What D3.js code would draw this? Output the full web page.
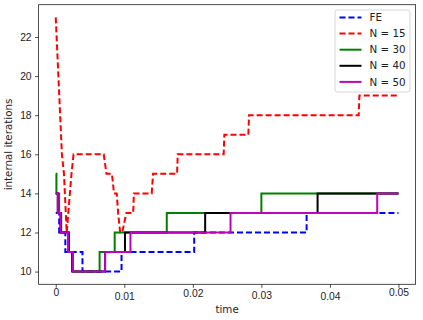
<!DOCTYPE html>
<html lang="en">
<head>
<meta charset="UTF-8">
<title>internal iterations vs time</title>
<script src="https://d3js.org/d3.v7.min.js"></script>
<style>
    body { margin: 0; background: #fff; }
    svg { display: block; font-family: "DejaVu Sans", sans-serif; }
    .axis text { font-size: 10.3px; fill: #222; }
    .axis path, .axis line { stroke: #222; stroke-width: 0.8px; }
    .series { fill: none; stroke-width: 2px; }
    .legend text { font-size: 10.3px; fill: #222; }
</style>
</head>
<body>
<svg width="423" height="320"></svg>
<script>
    // tick values / labels
    const xTicks = [0, 0.01, 0.02, 0.03, 0.04, 0.05];
    const xTickLabels = ["0", "0.01", "0.02", "0.03", "0.04", "0.05"];
    const yTicks = [10, 12, 14, 16, 18, 20, 22];

    // FE
    const feT = [0, 0.0005, 0.0014, 0.0039, 0.0096, 0.0202, 0.0366, 0.05];
    const feV = [13, 12, 11, 10, 11, 12, 13, 13];

    // N = 15 (plain line, not steps)
    const n15T = [0, 0.0009, 0.0012, 0.0016, 0.0023, 0.0026, 0.0070, 0.0074, 0.0082, 0.0085, 0.0089,
                  0.0091, 0.0094, 0.0097, 0.0103, 0.0113, 0.0114, 0.0140, 0.0142, 0.0177, 0.0178,
                  0.0245, 0.0246, 0.0281, 0.0282, 0.0442, 0.0443, 0.05];
    const n15V = [23, 16, 15, 12, 15, 16, 16, 15, 15, 14, 14,
                  13, 12, 12, 13, 13, 14, 14, 15, 15, 16,
                  16, 17, 17, 18, 18, 19, 19];

    // N = 30
    const n30T = [0, 0.0001, 0.0005, 0.0008, 0.0019, 0.0025, 0.0064, 0.0086, 0.0162, 0.0300, 0.05];
    const n30V = [15, 14, 13, 12, 11, 10, 11, 12, 13, 14, 14];

    // N = 40
    const n40T = [0, 0.0003, 0.0007, 0.0019, 0.0024, 0.0072, 0.0101, 0.0218, 0.0382, 0.05];
    const n40V = [14, 13, 12, 11, 10, 11, 12, 13, 14, 14];

    // N = 50
    const n50T = [0, 0.0003, 0.0007, 0.0018, 0.0025, 0.0072, 0.0109, 0.0255, 0.0469, 0.05];
    const n50V = [14, 13, 12, 11, 10, 11, 12, 13, 14, 14];

    const series = [
        { name: "FE",     t: feT,  v: feV,  color: "#0000ff", dash: "6,3", step: true },
        { name: "N = 15", t: n15T, v: n15V, color: "#ff0000", dash: "6,3", step: false },
        { name: "N = 30", t: n30T, v: n30V, color: "#008000", dash: null,  step: true },
        { name: "N = 40", t: n40T, v: n40V, color: "#000000", dash: null,  step: true },
        { name: "N = 50", t: n50T, v: n50V, color: "#bf00bf", dash: null,  step: true }
    ];

    const svg = d3.select("svg");
    const pLeft = 38.6, pRight = 415.6, pTop = 4.7, pBottom = 284.3;

    const x = d3.scaleLinear().domain([-0.0025, 0.0525]).range([pLeft, pRight]);
    const y = d3.scaleLinear().domain([9.35, 23.65]).range([pBottom, pTop]);

    // lines
    const plot = svg.append("g");
    series.forEach(s => {
        const pts = s.t.map((t, i) => [t, s.v[i]]);
        const line = d3.line()
            .x(d => x(d[0]))
            .y(d => y(d[1]))
            .curve(s.step ? d3.curveStepAfter : d3.curveLinear);
        plot.append("path")
            .datum(pts)
            .attr("class", "series")
            .attr("stroke", s.color)
            .attr("stroke-dasharray", s.dash)
            .attr("d", line);
    });

    // frame
    svg.append("rect")
        .attr("x", pLeft).attr("y", pTop)
        .attr("width", pRight - pLeft).attr("height", pBottom - pTop)
        .attr("fill", "none").attr("stroke", "#222").attr("stroke-width", 0.8);

    // axes
    const xAxis = svg.append("g")
        .attr("class", "axis")
        .attr("transform", `translate(0,${pBottom})`)
        .call(d3.axisBottom(x).tickValues(xTicks)
            .tickFormat((d, i) => xTickLabels[i]).tickSize(3.5).tickPadding(3.5));
    xAxis.select(".domain").remove();
    // the original labels sit at slightly uneven heights
    const xLabelDy = [-2.5, 1, -1.5, 0.5, 1, -2.5];
    xAxis.selectAll(".tick text").attr("transform", (d, i) => `translate(0,${xLabelDy[i]})`);

    const yAxis = svg.append("g")
        .attr("class", "axis")
        .attr("transform", `translate(${pLeft},0)`)
        .call(d3.axisLeft(y).tickValues(yTicks).tickSize(3.5).tickPadding(3.5));
    yAxis.select(".domain").remove();

    // axis labels
    svg.append("text")
        .attr("x", (pLeft + pRight) / 2).attr("y", 313)
        .attr("text-anchor", "middle")
        .attr("font-size", "10.3px").attr("fill", "#222")
        .text("time");

    svg.append("text")
        .attr("transform", `translate(11.5,${(pTop + pBottom) / 2}) rotate(-90)`)
        .attr("text-anchor", "middle")
        .attr("font-size", "10.3px").attr("fill", "#222")
        .text("internal iterations");

    // legend
    const legend = svg.append("g").attr("class", "legend");
    legend.append("rect")
        .attr("x", 335).attr("y", 10)
        .attr("width", 75).attr("height", 82)
        .attr("rx", 2.5)
        .attr("fill", "#fff").attr("fill-opacity", 0.8)
        .attr("stroke", "#ccc").attr("stroke-width", 0.8);

    series.forEach((s, i) => {
        const ly = 17.5 + i * 16.1;
        legend.append("line")
            .attr("x1", 339.5).attr("x2", 361.5)
            .attr("y1", ly).attr("y2", ly)
            .attr("stroke", s.color).attr("stroke-width", 2)
            .attr("stroke-dasharray", s.dash);
        legend.append("text")
            .attr("x", 369.5).attr("y", ly)
            .attr("dy", "0.35em")
            .text(s.name);
    });
</script>
</body>
</html>
